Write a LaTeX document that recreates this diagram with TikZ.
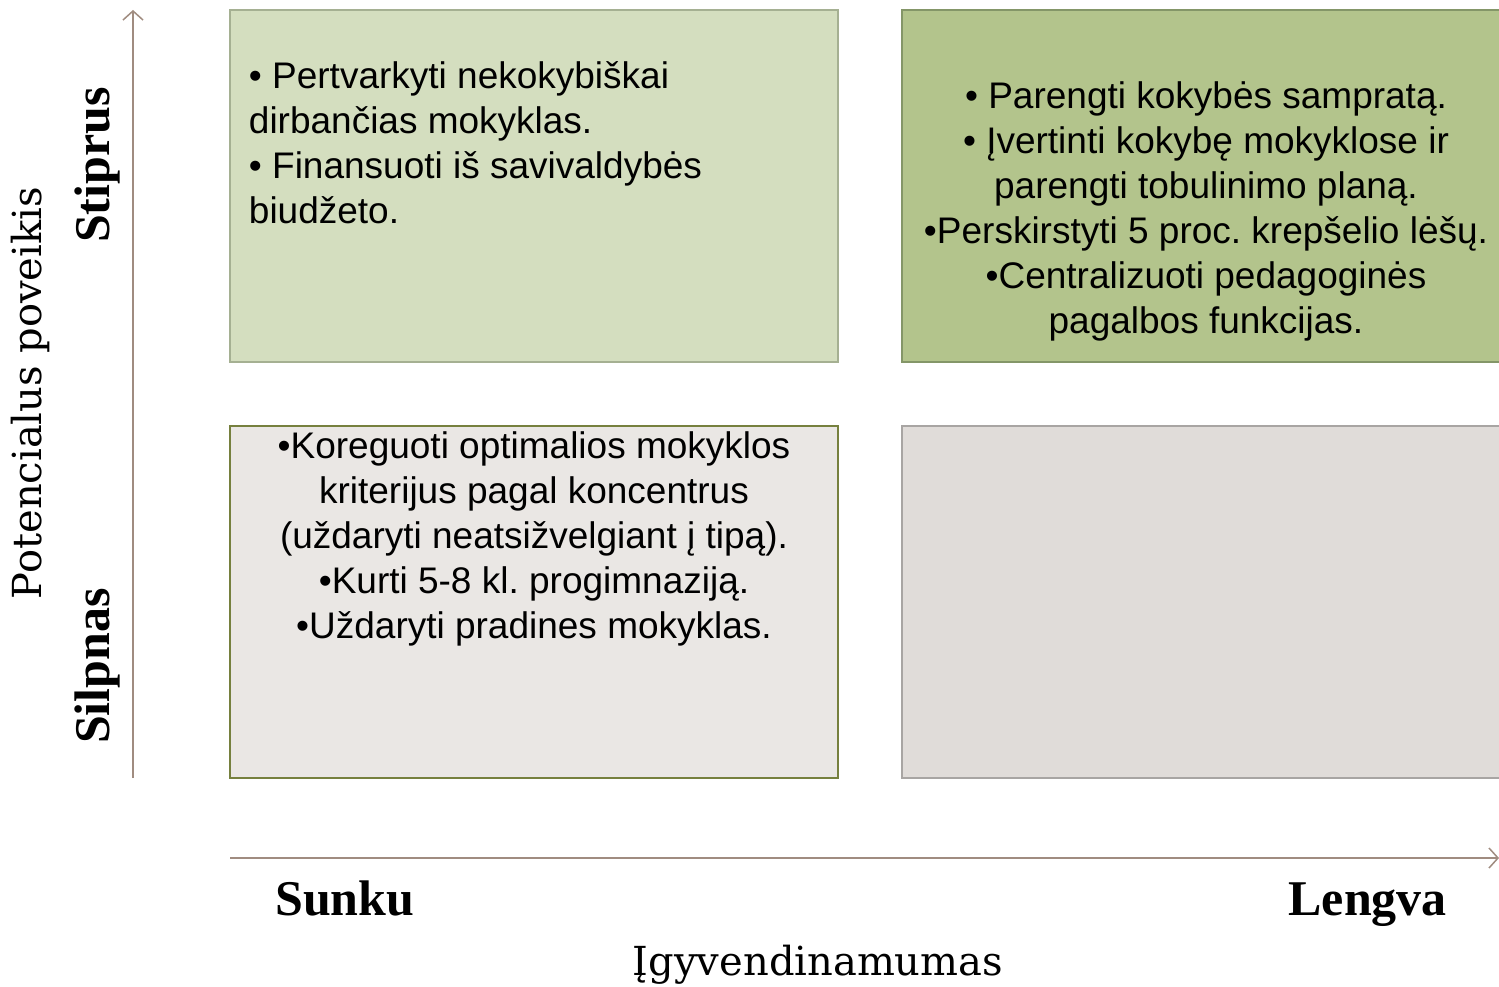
\documentclass[tikz,border=0pt]{standalone}
\usepackage{fontspec}
\setmainfont{Liberation Sans}
\newfontfamily\labelfont{DejaVu Serif}
\newfontfamily\sidefont{Liberation Serif}
\usetikzlibrary{arrows.meta}
\frenchspacing
\definecolor{tlfill}{HTML}{D4DEBF}
\definecolor{tlline}{HTML}{A5B092}
\definecolor{trfill}{HTML}{B3C48C}
\definecolor{trline}{HTML}{849668}
\definecolor{blfill}{HTML}{EAE7E4}
\definecolor{blline}{HTML}{76803E}
\definecolor{brfill}{HTML}{E0DCD9}
\definecolor{brline}{HTML}{A8A5A3}
\definecolor{axisline}{HTML}{A08C80}

\begin{document}
\begin{tikzpicture}[x=1pt, y=-1pt]
		\useasboundingbox (0,0) rectangle (1499,987);
		\tikzstyle{box}=[
		draw,
		rectangle,
		line width=2.5pt,
		inner sep=0pt,
		minimum width=608pt,
		minimum height=352pt]
		\tikzstyle{box_text}=[
		inner sep=0pt,
		font=\fontsize{37}{45}\selectfont]
		\tikzstyle{axis}=[
		draw=axisline,
		line width=1.5pt,
		-{Straight Barb[length=9pt, width=20pt, line width=1.5pt]}]
		\tikzstyle{side}=[
		inner sep=0pt,
		font=\sidefont\bfseries\fontsize{50}{50}\selectfont]
		\node[box, fill=tlfill, draw=tlline] (TL) at (534,186) {};
		\node[box, fill=trfill, draw=trline, right of=TL, node distance=672pt] (TR) {};
		\node[box, fill=blfill, draw=blline, below of=TL, node distance=416pt] (BL) {};
		\node[box, fill=brfill, draw=brline, right of=BL, node distance=672pt] (BR) {};
		%
		\node[box_text, anchor=north west, align=left, xshift=20pt, yshift=-53pt] (TL_T) at (TL.north west)
			{• Pertvarkyti nekokybiškai\\dirbančias mokyklas.\\• Finansuoti iš savivaldybės\\biudžeto.};
		\node[box_text, anchor=north, align=center, yshift=-73pt] (TR_T) at (TR.north)
			{• Parengti kokybės sampratą.\\• Įvertinti kokybę mokyklose ir\\parengti tobulinimo planą.\\•Perskirstyti 5 proc. krepšelio lėšų.\\•Centralizuoti pedagoginės\\pagalbos funkcijas.};
		\node[box_text, anchor=north, align=center, yshift=-7pt] (BL_T) at (BL.north)
			{•Koreguoti optimalios mokyklos\\kriterijus pagal koncentrus\\(uždaryti neatsižvelgiant į tipą).\\•Kurti 5-8 kl. progimnaziją.\\•Uždaryti pradines mokyklas.};
		%
		\coordinate (Y0) at (133,778);
		\coordinate (Y1) at (133,10);
		\coordinate (X0) at (230,858);
		\coordinate (X1) at (1499,858);
		\path [axis] (Y0) -- (Y1);
		\path [axis] (X0) -- (X1);
		%
		\node[side, rotate=90] (S1) at (97,165) {Stiprus};
		\node[side, rotate=90] (S2) at (97,666) {Silpnas};
		\node[side, anchor=base west] (E1) at (275,915) {Sunku};
		\node[side, anchor=base east] (E2) at (1447,915) {Lengva};
		%
		\node[rotate=90, inner sep=0pt, font=\labelfont\fontsize{40}{40}\selectfont] (YL) at (30,393) {Potencialus poveikis};
		\node[anchor=base, inner sep=0pt, font=\labelfont\fontsize{40}{40}\selectfont] (XL) at (818,975) {Įgyvendinamumas};
	\end{tikzpicture}
\end{document}
